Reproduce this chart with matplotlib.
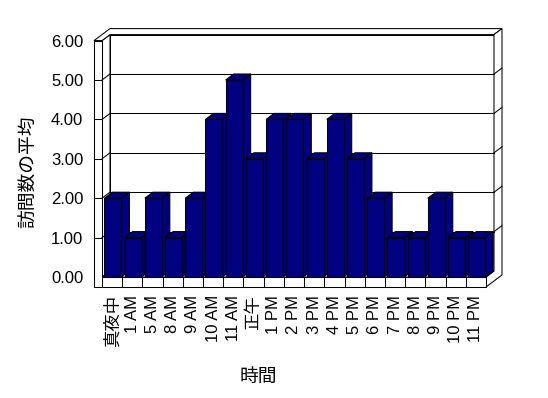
import matplotlib
matplotlib.use('Agg')
import matplotlib.pyplot as plt
from matplotlib.patches import Polygon

# data
hours = ['真夜中', '1 AM', '5 AM', '8 AM', '9 AM', '10 AM', '11 AM', '正午',
         '1 PM', '2 PM', '3 PM', '4 PM', '5 PM', '6 PM', '7 PM', '8 PM',
         '9 PM', '10 PM', '11 PM']
avg_visits = [2, 1, 2, 1, 2, 4, 5, 3, 4, 4, 3, 4, 3, 2, 1, 1, 2, 1, 1]
y_ticks = [0, 1, 2, 3, 4, 5, 6]

plt.rcParams['font.family'] = ['Liberation Sans', 'Noto Sans CJK JP']

W, H = 548, 398
fig = plt.figure(figsize=(W / 100, H / 100), dpi=100)
fig.patch.set_facecolor('white')

n = len(hours)
ymax = y_ticks[-1]
px_y = 39.4          # pixels per unit on the value axis
x0, y0 = 102, 277    # front plane, bottom-left corner (pixels from top-left)
plot_w = 384
cat_px = plot_w / n

ax = fig.add_axes([x0 / W, (H - y0) / H, plot_w / W, ymax * px_y / H])
ax.set_xlim(-0.5, n - 0.5)
ax.set_ylim(0, ymax)
for s in ax.spines.values():
    s.set_visible(False)

# 3D look: depth step and slab thickness, in data units
dx = 8 / cat_px
dy = 6 / px_y
wall = 8 / cat_px
ft = 10 / px_y
L, R = -0.5, n - 0.5
lw = 0.75
navy = '#000080'


def poly(pts, fc='white', z=1):
    ax.add_patch(Polygon(pts, closed=True, facecolor=fc, edgecolor='black',
                         linewidth=lw, clip_on=False, zorder=z, joinstyle='miter'))


def line(xs, ys, z=1.5):
    ax.plot(xs, ys, color='black', linewidth=lw, clip_on=False, zorder=z)


# back wall
poly([(L + dx, dy), (R + dx, dy), (R + dx, ymax + dy), (L + dx, ymax + dy)])
# left wall inner face
poly([(L, 0), (L + dx, dy), (L + dx, ymax + dy), (L, ymax)])
# top of the walls
poly([(L - wall, ymax), (L - wall + 2 * dx, ymax + 2 * dy), (R + 2 * dx, ymax + 2 * dy),
      (R + dx, ymax + dy), (L + dx, ymax + dy), (L, ymax)])
# right end of the back wall and floor
poly([(R, 0), (R, -ft), (R + 2 * dx, -ft + 2 * dy), (R + 2 * dx, ymax + 2 * dy),
      (R + dx, ymax + dy), (R + dx, dy)])
# floor top and front
poly([(L, 0), (R, 0), (R + dx, dy), (L + dx, dy)])
poly([(L, 0), (R, 0), (R, -ft), (L, -ft)])
for k in range(1, n):
    line([L + k, L + k], [0, -ft])
# left wall front face
poly([(L - wall, -ft), (L, -ft), (L, ymax), (L - wall, ymax)])

# gridlines
for v in y_ticks[1:-1]:
    line([L + dx, R + dx], [v + dy, v + dy])
    line([L, L + dx], [v, v + dy])
    line([L - wall, L], [v, v])
    line([R + dx, R + 2 * dx], [v + dy, v + 2 * dy])

# bars, left to right so each front hides the previous side
for i, v in enumerate(avg_visits):
    xl = i - 0.5 + 0.12
    xr = i - 0.5 + 0.96
    z = 3 + i * 0.1
    poly([(xr, 0), (xr + dx, dy), (xr + dx, v + dy), (xr, v)], navy, z)
    poly([(xl, v), (xr, v), (xr + dx, v + dy), (xl + dx, v + dy)], navy, z + 0.01)
    poly([(xl, 0), (xr, 0), (xr, v), (xl, v)], navy, z + 0.02)

ax.set_xticks(range(n))
ax.set_xticklabels(hours, rotation=90)
ax.set_yticks(y_ticks)
ax.set_yticklabels([f'{v:.2f}' for v in y_ticks])
ax.tick_params(axis='x', length=0, pad=13, labelsize=12)
ax.tick_params(axis='y', length=0, pad=13.5, labelsize=12)
for t in ax.get_xticklabels():
    if not t.get_text().isascii():
        t.set_fontsize(12.5)

fig.text(30 / W, 1 - 172 / H, '訪問数の平均', rotation=90, ha='center', va='center', fontsize=13.5)
fig.text(258 / W, 1 - 377 / H, '時間', ha='center', va='center', fontsize=13.5)

fig.savefig('out.png', dpi=100)
